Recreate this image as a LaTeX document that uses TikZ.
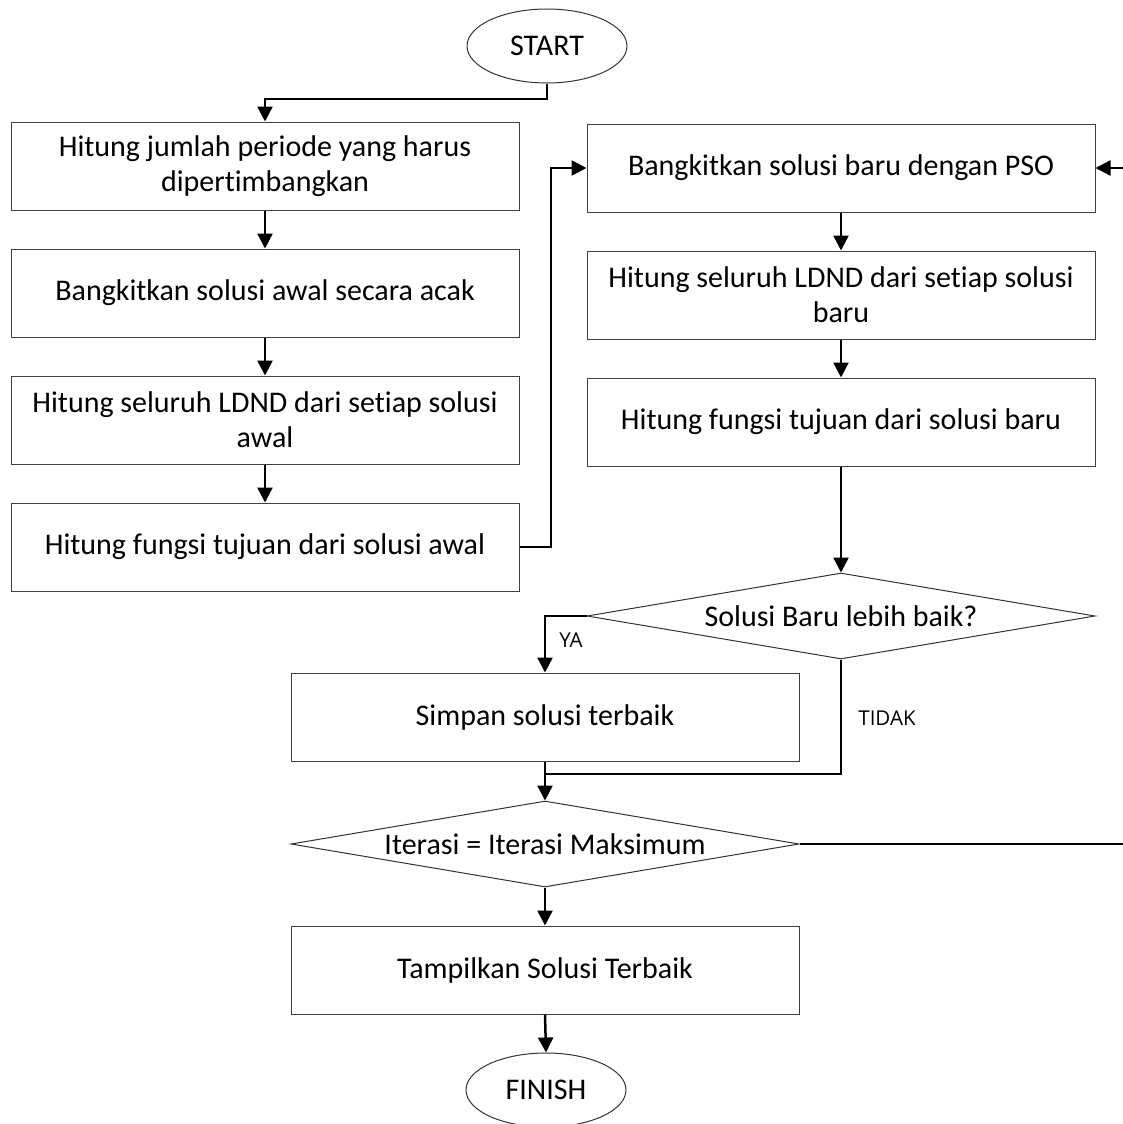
\documentclass[tikz,border=0pt]{standalone}
\usepackage{fontspec}
\setmainfont{Carlito}[Ligatures=NoCommon]
\newfontfamily\labelfont{Open Sans}
\usetikzlibrary{arrows.meta,shapes.geometric}
\begin{document}
\begin{tikzpicture}[x=1pt,y=-1pt,
  every node/.style={font=\fontsize{30}{35}\selectfont, align=center, inner sep=0pt},
  procbox/.style={draw=black!75, line width=1pt, rectangle, minimum width=508pt, minimum height=88pt},
  terminal/.style={draw=black!80, line width=1pt, ellipse, minimum width=160pt, minimum height=74pt},
  decision/.style={draw=black!80, line width=1pt, diamond, aspect=5.9, minimum width=508pt, minimum height=86pt},
  conn/.style={line width=2.5pt, -{Triangle[width=15pt,length=15pt]}},
  plainline/.style={line width=2.5pt},
  lbl/.style={font=\labelfont\fontsize{20.5}{24}\selectfont}
]
\useasboundingbox (0,0) rectangle (1123,1124);

\node[terminal] (start) at (547,46) {START};
\node[procbox] (b1) at (265,166) {Hitung jumlah periode yang harus\\dipertimbangkan};
\node[procbox] (b2) at (265,293) {Bangkitkan solusi awal secara acak};
\node[procbox] (b3) at (265,420) {Hitung seluruh LDND dari setiap solusi\\awal};
\node[procbox] (b4) at (265,547) {Hitung fungsi tujuan dari solusi awal};

\node[procbox] (r1) at (841,168) {Bangkitkan solusi baru dengan PSO};
\node[procbox] (r2) at (841,295) {Hitung seluruh LDND dari setiap solusi\\baru};
\node[procbox] (r3) at (841,422) {Hitung fungsi tujuan dari solusi baru};

\node[decision] (d1) at (841,616) {Solusi Baru lebih baik?};
\node[procbox] (simpan) at (545,717) {Simpan solusi terbaik};
\node[decision] (d2) at (545,844) {Iterasi = Iterasi Maksimum};
\node[procbox] (tamp) at (545,970) {Tampilkan Solusi Terbaik};
\node[terminal] (finish) at (546,1090) {FINISH};

\node[lbl] (ya) at (571,640) {YA};
\node[lbl] (tidak) at (887,718) {TIDAK};

\coordinate (j0) at (547,99);
\coordinate (j1) at (551,547);
\coordinate (j2) at (545,774);
\coordinate (j3) at (1129,844);

\draw[conn] (start.south) -- (j0) -| (b1.north);
\draw[conn] (b1.south) -- (b2.north);
\draw[conn] (b2.south) -- (b3.north);
\draw[conn] (b3.south) -- (b4.north);
\draw[conn] (b4.east) -- (j1) |- (r1.west);
\draw[conn] (r1.south) -- (r2.north);
\draw[conn] (r2.south) -- (r3.north);
\draw[conn] (r3.south) -- (d1.north);
\draw[conn] (d1.west) -| (simpan.north);
\draw[plainline] (d1.south) |- (j2);
\draw[conn] (simpan.south) -- (d2.north);
\draw[conn] (d2.south) -- (tamp.north);
\draw[conn] (tamp.south) -- (finish.north);
\draw[conn] (d2.east) -- (j3) |- (r1.east);
\end{tikzpicture}
\end{document}
